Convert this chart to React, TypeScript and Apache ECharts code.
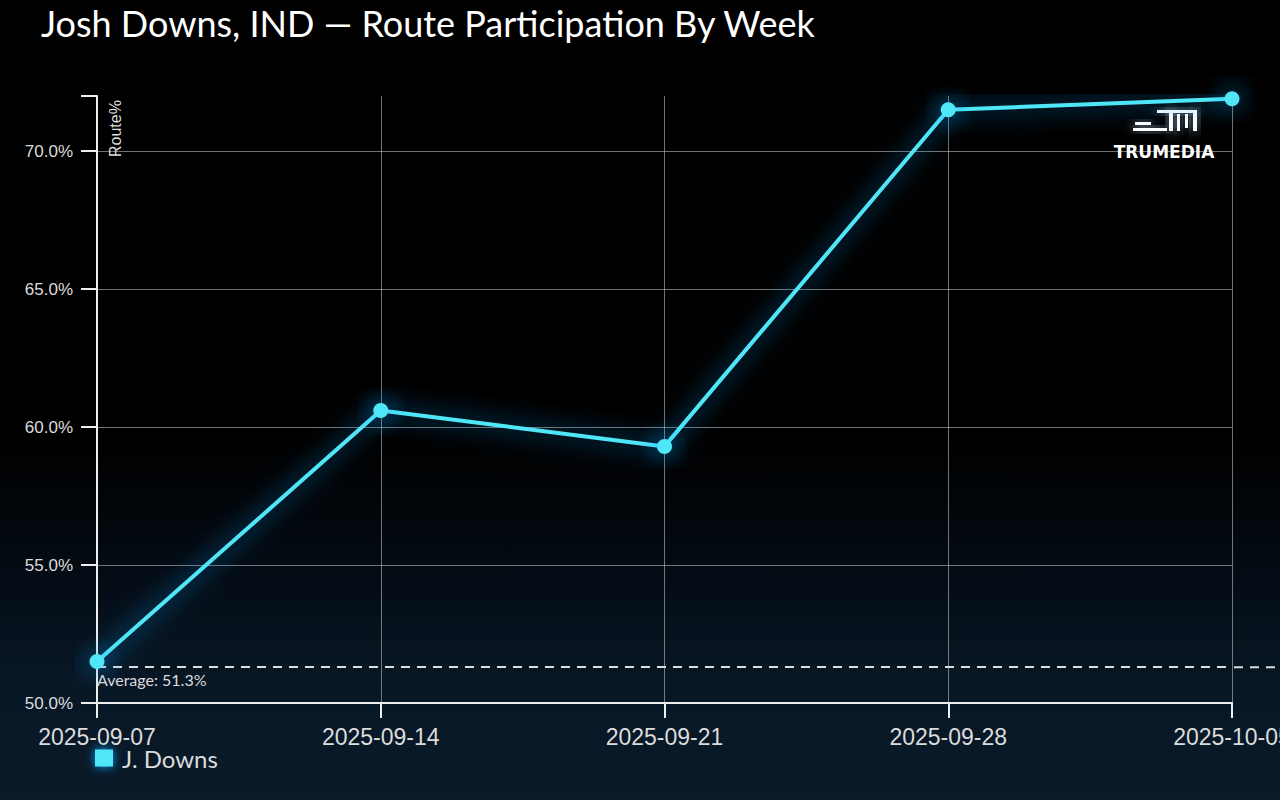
import React, { useEffect, useRef } from "react";
import * as echarts from "echarts";

const chartTitle = "Josh Downs, IND — Route Participation By Week";
const weeks = ["2025-09-07", "2025-09-14", "2025-09-21", "2025-09-28", "2025-10-05"];
const routePct = [51.5, 60.6, 59.3, 71.5, 71.9];
const averagePct = 51.3;
const averageLabel = "Average: 51.3%";
const seriesName = "J. Downs";
const yAxisName = "Route%";
const yMin = 50;
const yMax = 72;
const yStep = 5;
const logoText = "TRUMEDIA";

export default function App() {
  const ref = useRef<HTMLDivElement>(null);

  useEffect(() => {
    const chart = echarts.init(ref.current!, null, { renderer: "svg" });
    const cyan = "#50e6f8";
    const glow = "rgba(0, 160, 255, 1)";
    const axisWhite = "#eeeeee";
    const labelColor = "#dcdcdc";
    const gridColor = "rgba(190,190,190,0.6)";

    chart.setOption({
      animation: false,
      backgroundColor: "transparent",
      title: {
        text: chartTitle,
        left: 36,
        top: 0,
        textStyle: { color: "#ffffff", fontFamily: "Lato", fontWeight: "normal", fontSize: 36 },
      },
      legend: {
        left: 90,
        top: 741,
        icon: "rect",
        itemWidth: 18,
        itemHeight: 17,
        itemGap: 10,
        textStyle: { color: labelColor, fontFamily: "Lato", fontSize: 24, padding: [0, 0, 0, 4] },
        data: [{ name: seriesName, itemStyle: { color: cyan, shadowBlur: 10, shadowColor: glow } }],
      },
      grid: { left: 97, right: 48, top: 96, bottom: 97, containLabel: false, outerBoundsMode: "none" },
      xAxis: {
        type: "category",
        data: weeks,
        boundaryGap: false,
        axisLine: { show: true, lineStyle: { color: axisWhite, width: 2 } },
        axisTick: { show: true, length: 15, alignWithLabel: true, lineStyle: { color: axisWhite, width: 2 } },
        axisLabel: { color: labelColor, fontFamily: "Liberation Sans", fontSize: 23, margin: 22, interval: 0 },
        splitLine: { show: true, lineStyle: { color: gridColor, width: 1 } },
      },
      yAxis: {
        type: "value",
        min: yMin,
        max: yMax,
        interval: yStep,
        axisLine: { show: true, lineStyle: { color: axisWhite, width: 2 } },
        axisTick: { show: true, length: 16, lineStyle: { color: axisWhite, width: 2 } },
        axisLabel: {
          color: labelColor,
          fontFamily: "Liberation Sans",
          fontSize: 17,
          margin: 24,
          showMaxLabel: false,
          formatter: (v: number) => v.toFixed(1) + "%",
        },
        splitLine: { show: true, showMaxLine: false, lineStyle: { color: gridColor, width: 1 } },
      },
      series: [
        {
          name: seriesName,
          type: "line",
          data: routePct,
          symbol: "circle",
          symbolSize: 15,
          itemStyle: { color: cyan, shadowBlur: 24, shadowColor: glow },
          lineStyle: { color: cyan, width: 4, shadowBlur: 24, shadowColor: glow },
          z: 5,
          markLine: {
            silent: true,
            symbol: "none",
            data: [{ yAxis: averagePct }],
            lineStyle: { color: "#dddddd", width: 2, type: [9, 7] },
            label: {
              show: true,
              position: "insideStartBottom",
              distance: [0, 4],
              formatter: averageLabel,
              color: labelColor,
              fontFamily: "Lato",
              fontSize: 16,
            },
          },
        },
      ],
    });

    const avgY = chart.convertToPixel({ yAxisIndex: 0 }, averagePct) as number;
    const topY = chart.convertToPixel({ yAxisIndex: 0 }, yMax) as number;
    const startX = chart.convertToPixel({ xAxisIndex: 0 }, weeks[0]) as number;
    const endX = chart.convertToPixel({ xAxisIndex: 0 }, weeks[weeks.length - 1]) as number;
    const lx = 1133;
    const ly = 110;
    const logoStyle = { fill: "#ffffff", shadowBlur: 12, shadowColor: "rgba(200,230,255,0.9)" };

    chart.setOption({
      graphic: [
        {
          type: "line",
          shape: { x1: startX - 16, y1: topY, x2: startX, y2: topY },
          style: { stroke: axisWhite, lineWidth: 2 },
        },
        {
          type: "line",
          shape: { x1: endX + 2, y1: avgY, x2: 1280, y2: avgY },
          style: { stroke: "#dddddd", lineWidth: 2, lineDash: [9, 7] },
        },
        {
          type: "text",
          x: 107,
          y: 157,
          rotation: Math.PI / 2,
          style: {
            text: yAxisName,
            fill: labelColor,
            font: "16px 'Liberation Sans'",
            align: "left",
            verticalAlign: "top",
          },
        },
        {
          type: "group",
          x: lx,
          y: ly,
          children: [
            { type: "rect", shape: { x: 24, y: 0, width: 40, height: 3 }, style: logoStyle },
            { type: "rect", shape: { x: 2, y: 12, width: 16, height: 3 }, style: logoStyle },
            { type: "rect", shape: { x: 0, y: 18, width: 34, height: 3 }, style: logoStyle },
            { type: "rect", shape: { x: 36, y: 0, width: 4, height: 21 }, style: logoStyle },
            { type: "rect", shape: { x: 44, y: 4, width: 3, height: 17 }, style: logoStyle },
            { type: "rect", shape: { x: 52, y: 4, width: 3, height: 14 }, style: logoStyle },
            { type: "rect", shape: { x: 60, y: 0, width: 4, height: 21 }, style: logoStyle },
            {
              type: "text",
              x: 31,
              y: 42,
              style: {
                text: logoText,
                fill: "#ffffff",
                font: "bold 17px 'DejaVu Sans'",
                align: "center",
                verticalAlign: "middle",
                shadowBlur: 12,
                shadowColor: "rgba(200,230,255,0.9)",
              },
            },
          ],
        },
      ],
    });

    return () => chart.dispose();
  }, []);

  return (
    <div
      ref={ref}
      style={{
        position: "fixed",
        left: 0,
        top: 0,
        width: 1280,
        height: 800,
        background:
          "linear-gradient(180deg, #000000 0%, #000000 55%, #030a12 70%, #081725 85%, #0a1a29 100%)",
      }}
    />
  );
}
